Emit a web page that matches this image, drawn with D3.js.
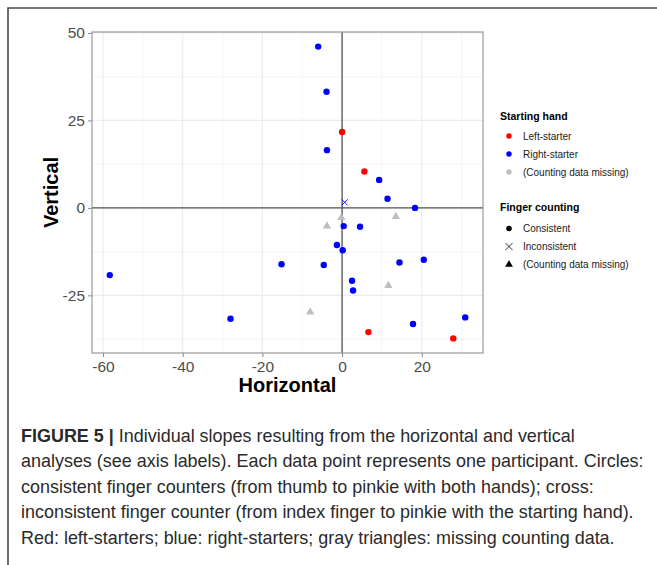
<!DOCTYPE html>
<html><head><meta charset="utf-8">
<script src="https://cdn.jsdelivr.net/npm/d3@7/dist/d3.min.js"></script>
<style>body{margin:0;background:#fff}svg{display:block;font-family:"Liberation Sans",Arial,sans-serif}</style>
</head><body>
<svg id="c" width="657" height="565"></svg>
<script>
// ---- data ----
const rightX = [-6.0,-3.9,-3.8,9.3,11.4,18.3,0.4,4.5,-1.3,0.15,-4.6,14.4,20.5,2.5,2.75,30.9,17.8,-58.3,-28.0,-15.2];
const rightY = [46.1,33.2,16.5,8.0,2.6,0.0,-5.2,-5.4,-10.6,-12.1,-16.3,-15.6,-14.8,-20.8,-23.6,-31.3,-33.2,-19.2,-31.7,-16.1];
const leftX = [0.0,5.6,6.6,27.9];
const leftY = [21.7,10.4,-35.5,-37.3];
const crossX = [0.65];
const crossY = [1.6];
const missingX = [-0.2,13.5,-3.8,11.6,-8.0];
const missingY = [-2.8,-2.5,-5.2,-22.2,-29.8];
const xTicks = [-60,-40,-20,0,20];
const yTicks = [-25,0,25,50];
const handLabels = ["Left-starter","Right-starter","(Counting data missing)"];
const countLabels = ["Consistent","Inconsistent","(Counting data missing)"];
const captionLines = [
  ["FIGURE 5 |"," Individual slopes resulting from the horizontal and vertical"],
  ["","analyses (see axis labels). Each data point represents one participant. Circles:"],
  ["","consistent finger counters (from thumb to pinkie with both hands); cross:"],
  ["","inconsistent finger counter (from index finger to pinkie with the starting hand)."],
  ["","Red: left-starters; blue: right-starters; gray triangles: missing counting data."]
];

// ---- layout ----
const P = {l:92, r:483, t:32, b:353};
const svg = d3.select("#c");
const allX = rightX.concat(leftX, crossX, missingX);
const allY = rightY.concat(leftY, crossY, missingY);
function expand(v){const mn=d3.min(v),mx=d3.max(v),r=mx-mn;return [mn-0.05*r,mx+0.05*r];}
const x = d3.scaleLinear().domain(expand(allX)).range([P.l,P.r]);
const y = d3.scaleLinear().domain(expand(allY)).range([P.b,P.t]);

// outer frame
svg.append("path").attr("d","M8,565V8H657").attr("fill","none").attr("stroke","#4a4a4a").attr("stroke-width",1.6);

// grid
const g = svg.append("g");
const xMinor = xTicks.map(t=>t+10).concat([xTicks[0]-10]).filter(t=>t>x.domain()[0]&&t<x.domain()[1]);
const yMinor = yTicks.map(t=>t+12.5).concat([yTicks[0]-12.5]).filter(t=>t>y.domain()[0]&&t<y.domain()[1]);
g.selectAll(".xm").data(xMinor).join("line").attr("x1",d=>x(d)).attr("x2",d=>x(d)).attr("y1",P.t).attr("y2",P.b).attr("stroke","#f3f3f3").attr("stroke-width",0.8);
g.selectAll(".ym").data(yMinor).join("line").attr("y1",d=>y(d)).attr("y2",d=>y(d)).attr("x1",P.l).attr("x2",P.r).attr("stroke","#f3f3f3").attr("stroke-width",0.8);
g.selectAll(".xM").data(xTicks).join("line").attr("x1",d=>x(d)).attr("x2",d=>x(d)).attr("y1",P.t).attr("y2",P.b).attr("stroke","#ebebeb").attr("stroke-width",1.1);
g.selectAll(".yM").data(yTicks).join("line").attr("y1",d=>y(d)).attr("y2",d=>y(d)).attr("x1",P.l).attr("x2",P.r).attr("stroke","#ebebeb").attr("stroke-width",1.1);

// zero lines
svg.append("line").attr("x1",x(0)).attr("x2",x(0)).attr("y1",P.t).attr("y2",P.b).attr("stroke","#555").attr("stroke-width",1.3);
svg.append("line").attr("y1",y(0)).attr("y2",y(0)).attr("x1",P.l).attr("x2",P.r).attr("stroke","#555").attr("stroke-width",1.3);

// panel border
svg.append("rect").attr("x",P.l).attr("y",P.t).attr("width",P.r-P.l).attr("height",P.b-P.t).attr("fill","none").attr("stroke","#999").attr("stroke-width",1.2);

// axes
const fmt = d => String(d);
const ax = svg.append("g").attr("transform",`translate(0,${P.b})`).call(d3.axisBottom(x).tickValues(xTicks).tickFormat(fmt).tickSize(4).tickPadding(4));
const ay = svg.append("g").attr("transform",`translate(${P.l},0)`).call(d3.axisLeft(y).tickValues(yTicks).tickFormat(fmt).tickSize(4).tickPadding(3));
[ax,ay].forEach(a=>{a.select(".domain").remove();a.selectAll(".tick line").attr("stroke","#888");
  a.selectAll("text").attr("fill","#4d4d4d").style("font-size","15.5px").style("font-family",'"Liberation Sans",Arial,sans-serif');});

svg.append("text").attr("x",(P.l+P.r)/2).attr("y",392).attr("text-anchor","middle").style("font-size","20px").style("font-weight","bold").text("Horizontal");
svg.append("text").attr("transform",`translate(58,${(P.t+P.b)/2}) rotate(-90)`).attr("text-anchor","middle").style("font-size","20px").style("font-weight","bold").text("Vertical");

// points
const pts = svg.append("g");
pts.selectAll(".m").data(d3.zip(missingX,missingY)).join("path").attr("transform",d=>`translate(${x(d[0])},${y(d[1])})`).attr("d",d3.symbol(d3.symbolTriangle,30)).attr("fill","#bebebe");
pts.selectAll(".r").data(d3.zip(rightX,rightY)).join("circle").attr("cx",d=>x(d[0])).attr("cy",d=>y(d[1])).attr("r",3.2).attr("fill","#0000ff");
pts.selectAll(".l").data(d3.zip(leftX,leftY)).join("circle").attr("cx",d=>x(d[0])).attr("cy",d=>y(d[1])).attr("r",3.2).attr("fill","#ff0000");
pts.selectAll(".x").data(d3.zip(crossX,crossY)).join("path").attr("transform",d=>`translate(${x(d[0])},${y(d[1])})`).attr("d","M-3,-3L3,3M-3,3L3,-3").attr("stroke","#0000ff").attr("stroke-width",0.9).attr("fill","none");

// legend
const handColors = ["#ff0000","#0000ff","#bebebe"];
const lg = svg.append("g");
lg.append("text").attr("x",500).attr("y",120).style("font-size","10.5px").style("font-weight","bold").text("Starting hand");
handLabels.forEach((t,i)=>{const yy=136+i*18;
  lg.append("circle").attr("cx",509).attr("cy",yy).attr("r",2.7).attr("fill",handColors[i]);
  lg.append("text").attr("x",523).attr("y",yy+3.5).style("font-size","10px").attr("fill","#1a1a1a").text(t);});
lg.append("text").attr("x",500).attr("y",211).style("font-size","10.5px").style("font-weight","bold").text("Finger counting");
countLabels.forEach((t,i)=>{const yy=228.5+i*18;
  if(i===0) lg.append("circle").attr("cx",509).attr("cy",yy).attr("r",2.8).attr("fill","#000");
  else if(i===1) lg.append("path").attr("transform",`translate(509,${yy})`).attr("d","M-3.5,-3.5L3.5,3.5M-3.5,3.5L3.5,-3.5").attr("stroke","#000").attr("stroke-width",0.8);
  else lg.append("path").attr("transform",`translate(509,${yy})`).attr("d",d3.symbol(d3.symbolTriangle,26)).attr("fill","#000");
  lg.append("text").attr("x",523).attr("y",yy+3.5).style("font-size","10px").attr("fill","#1a1a1a").text(t);});

// caption: uniform horizontal scale so that the widest line spans x 21..644
const cap = svg.append("g");
const capTexts = captionLines.map((ln,i)=>{
  const t = cap.append("text").attr("x",0).attr("y",441.7+i*25.6).style("font-size","18px").attr("fill","#2a2a2a");
  if(ln[0]) t.append("tspan").style("font-weight","bold").text(ln[0]);
  t.append("tspan").text(ln[1]);
  return t;
});
const widest = d3.max(capTexts, t => t.node().getComputedTextLength());
const s = (644-21)/widest;
cap.attr("transform",`translate(21,0) scale(${s},1)`);
</script>
</body></html>
